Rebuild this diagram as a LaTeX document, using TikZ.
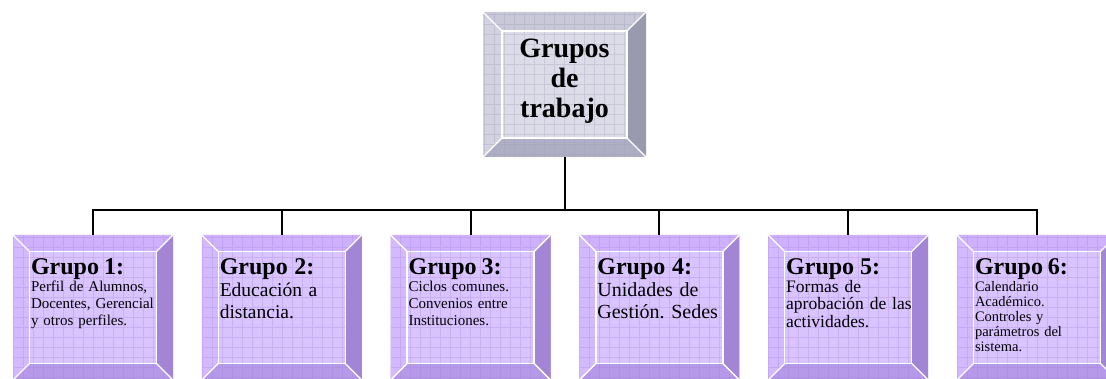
\documentclass[tikz,border=0pt]{standalone}
\usepackage{fontspec}
\setmainfont{Liberation Serif}
\usepackage{tikz}
\usetikzlibrary{calc}
\frenchspacing

\definecolor{facegrupo}{HTML}{DAC4FF}
\definecolor{topgrupo}{HTML}{CEB0FC}
\definecolor{leftgrupo}{HTML}{D3BAFE}
\definecolor{rightgrupo}{HTML}{A285D4}
\definecolor{bottomgrupo}{HTML}{B699E8}
\definecolor{gridgrupo}{HTML}{A585E0}
\definecolor{facetitulo}{HTML}{DCDCE8}
\definecolor{toptitulo}{HTML}{C8C8D8}
\definecolor{lefttitulo}{HTML}{D2D2E0}
\definecolor{righttitulo}{HTML}{9A9AAE}
\definecolor{bottomtitulo}{HTML}{AEAEC4}
\definecolor{gridtitulo}{HTML}{9C9CB4}

\newcommand{\bevelsize}{16.5pt}
% top, left, right, bottom, grid
\newcommand{\drawbevels}[5]{%
  \coordinate (sw) at (path picture bounding box.south west);
  \coordinate (ne) at (path picture bounding box.north east);
  \coordinate (nw) at (sw|-ne);
  \coordinate (se) at (ne|-sw);
  \coordinate (isw) at ($(sw)+(\bevelsize,\bevelsize)$);
  \coordinate (ine) at ($(ne)+(-\bevelsize,-\bevelsize)$);
  \coordinate (inw) at ($(nw)+(\bevelsize,-\bevelsize)$);
  \coordinate (ise) at ($(se)+(-\bevelsize,\bevelsize)$);
  \fill[#1] (nw) -- (ne) -- (ine) -- (inw) -- cycle;
  \fill[#2] (sw) -- (nw) -- (inw) -- (isw) -- cycle;
  \fill[#3] (se) -- (ne) -- (ine) -- (ise) -- cycle;
  \fill[#4] (sw) -- (se) -- (ise) -- (isw) -- cycle;
  \draw[#5, opacity=.3, line width=.6pt, step=10pt] (sw) grid (ne);
  \draw[white, line width=1.3pt] (isw) rectangle (ine);
  \draw[white, line width=1.3pt] (sw) -- (isw) (nw) -- (inw) (ne) -- (ine) (se) -- (ise);
}

\tikzstyle{grupobox} = [
    rectangle,
    fill=facegrupo,
    inner sep=0pt,
    minimum width=160pt,
    minimum height=145pt,
    path picture={\drawbevels{topgrupo}{leftgrupo}{rightgrupo}{bottomgrupo}{gridgrupo}}
    ]
\tikzstyle{titulobox} = [
    rectangle,
    fill=facetitulo,
    inner sep=0pt,
    minimum width=163pt,
    minimum height=145pt,
    path picture={\renewcommand{\bevelsize}{19pt}\drawbevels{toptitulo}{lefttitulo}{righttitulo}{bottomtitulo}{gridtitulo}}
    ]
\tikzstyle{grupotexto} = [
    anchor=north west,
    inner sep=0pt,
    text width=150pt,
    align=left
    ]
\tikzstyle{conector} = [
    draw=black,
    line width=2pt
    ]
\newcommand{\grupotit}[1]{{\fontsize{24}{26}\selectfont\bfseries #1\par}}

\begin{document}
\begin{tikzpicture}[x=1pt,y=-1pt]
\useasboundingbox (0,0) rectangle (1106,379);
\clip (0,0) rectangle (1106,379);

\node[titulobox] (grupos) at (564.5,84.5) {};
\node[align=center, inner sep=0pt, font=\fontsize{28}{30}\selectfont\bfseries] (gruposlbl) at ([yshift=3pt]grupos.center) {Grupos\\de\\trabajo};

\coordinate (barra) at (564.5,210);
\foreach \i in {1,...,6}{
  \node[grupobox] (g\i) at ({93+(\i-1)*188.8},307.5) {};
  \draw[conector] (grupos.south) -- (barra) -| (g\i.north);
}

\node[grupotexto, font=\fontsize{15}{17}\selectfont] (t1) at ([shift={(18pt,-24pt)}]g1.north west) {\grupotit{Grupo 1:}Perfil de Alumnos,\\Docentes, Gerencial\\y otros perfiles.};
\node[grupotexto, font=\fontsize{19.5}{22}\selectfont] (t2) at ([shift={(18pt,-24pt)}]g2.north west) {\grupotit{Grupo 2:}Educación a\\distancia.};
\node[grupotexto, font=\fontsize{15}{17}\selectfont] (t3) at ([shift={(18pt,-24pt)}]g3.north west) {\grupotit{Grupo 3:}Ciclos comunes.\\Convenios entre\\Instituciones.};
\node[grupotexto, font=\fontsize{20}{22}\selectfont] (t4) at ([shift={(18pt,-24pt)}]g4.north west) {\grupotit{Grupo 4:}Unidades de\\Gestión. Sedes};
\node[grupotexto, font=\fontsize{17.5}{17.5}\selectfont] (t5) at ([shift={(18pt,-24pt)}]g5.north west) {\grupotit{Grupo 5:}Formas de\\aprobación de las\\actividades.};
\node[grupotexto, font=\fontsize{14.5}{15}\selectfont] (t6) at ([shift={(18pt,-24pt)}]g6.north west) {\grupotit{Grupo 6:}Calendario\\Académico.\\Controles y\\parámetros del\\sistema.};
\end{tikzpicture}
\end{document}
